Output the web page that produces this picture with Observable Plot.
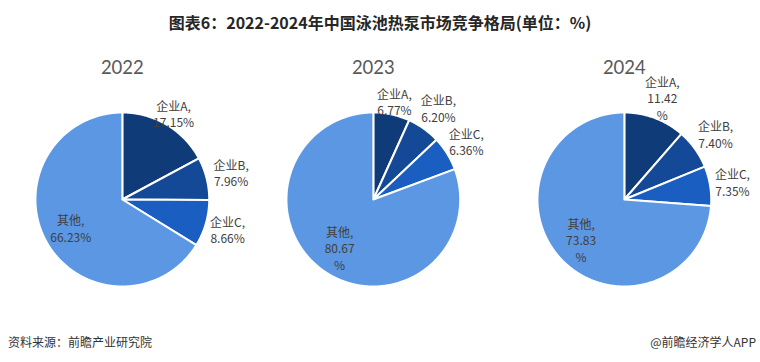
<!DOCTYPE html>
<html>
<head>
<meta charset="utf-8">
<script src="https://cdn.jsdelivr.net/npm/d3@7"></script>
<script src="https://cdn.jsdelivr.net/npm/@observablehq/plot@0.6"></script>
<style>
  html, body { margin: 0; padding: 0; background: #fff; }
  body { width: 760px; height: 362px; overflow: hidden; position: relative; font-family: "Noto Sans CJK SC", sans-serif; }
  #title { position: absolute; top: 0; left: 0; width: 760px; height: 44px; line-height: 44px; text-align: center; font-weight: 700; font-size: 16px; color: #262626; }
  #chart { position: absolute; top: 44px; left: 0; }
  #source { position: absolute; left: 8px; top: 332px; font-size: 12px; line-height: 20px; color: #333; }
  #brand { position: absolute; right: 4px; top: 332px; font-size: 12px; line-height: 20px; color: #333; }
</style>
</head>
<body>
<div id="title">图表6：2022-2024年中国泳池热泵市场竞争格局(单位：%)</div>
<div id="chart"></div>
<div id="source">资料来源：前瞻产业研究院</div>
<div id="brand">@前瞻经济学人APP</div>
<script>
// ---- data ----
const years = ["2022", "2023", "2024"];
const categories = ["企业A", "企业B", "企业C", "其他"];
const share2022 = [17.15, 7.96, 8.66, 66.23];
const share2023 = [6.77, 6.20, 6.36, 80.67];
const share2024 = [11.42, 7.40, 7.35, 73.83];
// labels whose percent sign wraps onto its own line in the original
const wrappedLabels = { "2023": ["其他"], "2024": ["企业A", "其他"] };

// ---- style ----
const colors = ["#0f3b79", "#134996", "#1b5ec2", "#5b97e3"];
const labelRadius = { "企业A": 1.15, "企业B": 1.29, "企业C": 1.26, "其他": 0.68 };
const insideLabel = { "其他": true };
const R = 87;
const fontSize = 12, lineHeight = 1.38;

const sharesByYear = { "2022": share2022, "2023": share2023, "2024": share2024 };

const points = [];
const labels = [];
for (const year of years) {
  const rows = categories.map((c, i) => ({ category: c, value: sharesByYear[year][i] }));
  const arcs = d3.pie().sort(null).value(d => d.value).startAngle(0).endAngle(2 * Math.PI)(rows);
  for (const a of arcs) {
    const cat = a.data.category;
    const n = Math.max(2, Math.ceil((a.endAngle - a.startAngle) / (Math.PI / 360)));
    points.push({ year, category: cat, x: 0, y: 0 });
    for (let k = 0; k <= n; k++) {
      const t = a.startAngle + (a.endAngle - a.startAngle) * k / n;
      points.push({ year, category: cat, x: R * Math.sin(t), y: R * Math.cos(t) });
    }
    const mid = (a.startAngle + a.endAngle) / 2;
    const wrap = (wrappedLabels[year] || []).includes(cat);
    const lr = R * labelRadius[cat] + (wrap && !insideLabel[cat] ? fontSize * lineHeight / 2 : 0);
    const v = a.data.value.toFixed(2);
    labels.push({
      year, category: cat,
      x: lr * Math.sin(mid), y: lr * Math.cos(mid),
      text: `${cat},\n${v}${wrap ? "\n%" : "%"}`
    });
  }
}

const chart = Plot.plot({
  width: 760,
  height: 285,
  marginTop: 0, marginBottom: 0, marginLeft: 0, marginRight: 6,
  fx: { domain: years, padding: 0, axis: null },
  x: { domain: [-121, 251.333 - 121], axis: null },
  y: { domain: [-130, 155], axis: null },
  style: { background: "transparent", overflow: "visible" },
  marks: [
    ...categories.map((c, i) => Plot.line(points.filter(p => p.category === c), {
      fx: "year", x: "x", y: "y",
      fill: colors[i], stroke: "#ffffff", strokeWidth: 2, strokeLinejoin: "round",
      curve: "linear-closed"
    })),
    Plot.text(labels, {
      fx: "year", x: "x", y: "y", text: "text",
      fontSize, lineHeight, fill: "#404040",
      fontFamily: "Noto Sans CJK SC"
    }),
    Plot.text(years, {
      fx: d => d, x: () => 0, y: () => 131.5, text: d => d,
      fontSize: 18.5, fontFamily: "Lato", fill: "#595959"
    })
  ]
});
document.getElementById("chart").appendChild(chart);
</script>
</body>
</html>
